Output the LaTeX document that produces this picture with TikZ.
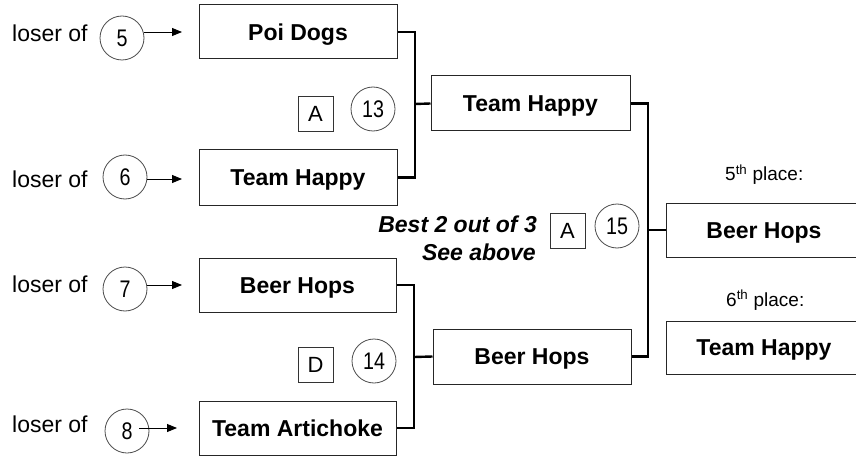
\documentclass[tikz,border=0pt]{standalone}
\usepackage{fontspec}
\setmainfont{Liberation Sans}
\newfontfamily\narrowfont[FakeStretch=0.82]{Liberation Sans}
\usetikzlibrary{arrows.meta}
\tikzset{
  team/.style={draw=black!85, line width=1pt, minimum width=198pt, minimum height=54pt,
    inner sep=0pt, font=\fontsize{23}{27}\bfseries\selectfont, text height=16.5pt, text depth=0pt},
  num/.style={circle, draw=black!70, line width=0.8pt, minimum size=44pt, inner sep=0pt,
    font=\narrowfont\fontsize{24}{28}\selectfont, text height=17pt, text depth=0pt},
  tag/.style={draw=black!80, line width=0.8pt, minimum size=35pt, inner sep=0pt,
    font=\fontsize{22}{26}\selectfont, text height=15.8pt, text depth=0pt},
  loser/.style={anchor=base west, inner sep=0pt, font=\fontsize{23}{27}\selectfont},
  place/.style={anchor=base west, inner sep=0pt, font=\fontsize{19}{23}\selectfont},
  arr/.style={line width=0.9pt, -{Triangle[length=10pt,width=8pt]}},
  br/.style={line width=2.4pt}
}
\begin{document}
\begin{tikzpicture}[x=1pt,y=-1pt]
\clip (0,0) rectangle (856,457);
\fill[white] (0,0) rectangle (856,457);
% round 1 boxes
\node[team] (poi) at (298,32) {Poi Dogs};
\node[team, minimum height=55pt] (th1) at (298,177.5) {Team Happy};
\node[team, minimum width=197pt] (bh1) at (297.5,285) {Beer Hops};
\node[team, minimum width=197pt] (ta) at (297.5,428) {Team Artichoke};
% round 2 boxes
\node[team, minimum width=199pt, minimum height=55pt] (th2) at (530.5,103.5) {Team Happy};
\node[team, minimum height=55pt] (bh2) at (532,356.5) {Beer Hops};
% final boxes
\node[team, minimum width=196pt] (bhf) at (764,230) {Beer Hops};
\node[team, minimum width=196pt, minimum height=53pt] (thf) at (764,347.5) {Team Happy};
% loser labels
\node[loser] (l5) at (12,42) {loser of};
\node[loser] (l6) at (12,187) {loser of};
\node[loser] (l7) at (12,292) {loser of};
\node[loser] (l8) at (12,432) {loser of};
% circles
\node[num] (c5) at (122,38) {5};
\node[num] (c6) at (125,177) {6};
\node[num] (c7) at (125,289) {7};
\node[num] (c8) at (127,431) {8};
\node[num] (c13) at (373,109) {13};
\node[num] (c14) at (374,361) {14};
\node[num] (c15) at (617,226) {15};
% tags
\node[tag] (t13) at (315.5,114) {A};
\node[tag] (t14) at (315.5,365) {D};
\node[tag] (t15) at (567.5,231) {A};
% arrows
\coordinate (a5) at (182,32);
\coordinate (a6) at (182,179);
\coordinate (a7) at (182,285);
\coordinate (a8) at (177,428);
\draw[arr] (a5 -| c5.east) -- (a5);
\draw[arr] (a6 -| c6.east) -- (a6);
\draw[arr] (a7 -| c7.east) -- (a7);
\draw[arr] (139,428) -- (a8);
% brackets
\coordinate (j1) at (415,104);
\coordinate (j2) at (414,357);
\coordinate (j3) at (648,230);
\draw[br] (poi.east) -| (j1) |- (th1.east);
\draw[br] (j1) -- (th2.west);
\draw[br] (bh1.east) -| (j2) |- (ta.east);
\draw[br] (j2) -- (bh2.west);
\draw[br] (th2.east) -| (j3) |- (bh2.east);
\draw[br] (j3) -- (bhf.west);
% notes
\node[anchor=base east, inner sep=0pt, font=\fontsize{23}{27}\bfseries\itshape\selectfont] (best) at (537,232) {Best 2 out of 3};
\node[anchor=base east, inner sep=0pt, font=\fontsize{23}{27}\bfseries\itshape\selectfont] (see) at (536,260) {See above};
\node[place] (p5) at (725,181) {5\textsuperscript{th} place:};
\node[place] (p6) at (726,306) {6\textsuperscript{th} place:};
\end{tikzpicture}
\end{document}
